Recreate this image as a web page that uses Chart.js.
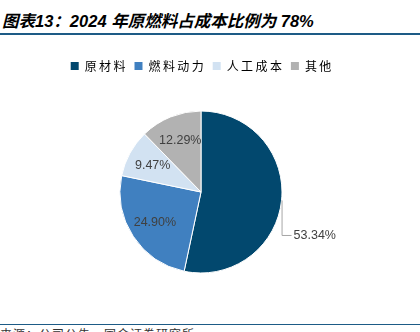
<!DOCTYPE html>
<html>
<head>
<meta charset="utf-8">
<script src="https://cdn.jsdelivr.net/npm/chart.js@4"></script>
<style>
    body { margin: 0; width: 420px; height: 332px; overflow: hidden; background: #fff; position: relative; }
    .titel { position: absolute; left: 2px; top: 8px; font: italic bold 16.5px "Liberation Sans", "Noto Sans CJK SC"; color: #000; white-space: nowrap; }
    .lijn { position: absolute; left: 0; width: 420px; height: 1.5px; background: #1d5b86; }
    .bron { position: absolute; left: 0; top: 325px; font: 12px "Noto Sans CJK SC"; color: #333; white-space: nowrap; letter-spacing: 1px; }
    .chart-box { position: absolute; left: 0; top: 35px; width: 420px; height: 287px; }
</style>
</head>
<body>
<div class="titel">图表13：2024 年原燃料占成本比例为 78%</div>
<div class="lijn" style="top:33px"></div>
<div class="chart-box"><canvas id="pie"></canvas></div>
<div class="lijn" style="top:323.5px"></div>
<div class="bron">来源：公司公告，国金证券研究所</div>
<script>
// data
var categorieen = ["原材料", "燃料动力", "人工成本", "其他"]
var aandelen = [53.34, 24.90, 9.47, 12.29]
var kleuren = ["#02486e", "#4080c0", "#d2e2f2", "#b2b2b2"]

// labels inside / outside the slices
var labelPlugin = {
    id: "sliceLabels",
    afterDatasetsDraw: function(chart) {
        var ctx = chart.ctx
        var meta = chart.getDatasetMeta(0)
        ctx.save()
        ctx.font = "12.5px 'Liberation Sans'"
        ctx.fillStyle = "#404040"
        ctx.textBaseline = "middle"
        meta.data.forEach(function(arc, i) {
            var p = arc.getProps(["x", "y", "startAngle", "endAngle", "outerRadius"], true)
            var mid = (p.startAngle + p.endAngle) / 2
            var tekst = aandelen[i].toFixed(2) + "%"
            if (i == 0) {
                var ex = p.x + Math.cos(mid) * p.outerRadius
                var ey = p.y + Math.sin(mid) * p.outerRadius
                ctx.strokeStyle = "#a6a6a6"
                ctx.lineWidth = 1
                ctx.beginPath()
                ctx.moveTo(ex + 0.5, ey)
                ctx.lineTo(ex + 0.5, ey + 35)
                ctx.lineTo(ex + 10, ey + 35)
                ctx.stroke()
                ctx.textAlign = "left"
                ctx.fillText(tekst, ex + 12, ey + 35)
            } else {
                var r = p.outerRadius * 0.68
                ctx.textAlign = "center"
                ctx.fillText(tekst, p.x + Math.cos(mid) * r, p.y + Math.sin(mid) * r)
            }
        })
        ctx.restore()
    }
}

var spaced = function(s) { return s.split("").join("\u2009") }

var myPie = new Chart(document.getElementById("pie"), {
    type: "pie",
    data: {
        labels: categorieen,
        datasets: [{
            data: aandelen,
            backgroundColor: kleuren,
            borderColor: "#ffffff",
            borderWidth: 1,
            radius: 81
        }]
    },
    options: {
        responsive: true,
        maintainAspectRatio: false,
        animation: false,
        layout: { padding: { top: 16, bottom: 20, left: 0, right: 18 } },
        plugins: {
            tooltip: { enabled: false },
            legend: {
                position: "top",
                labels: {
                    boxWidth: 8,
                    boxHeight: 8,
                    padding: 9,
                    color: "#333",
                    font: { family: "'Noto Sans CJK SC'", size: 12 },
                    generateLabels: function(chart) {
                        return categorieen.map(function(c, i) {
                            return { text: spaced(c), fillStyle: kleuren[i], strokeStyle: kleuren[i], lineWidth: 0, index: i, hidden: false }
                        })
                    }
                }
            }
        }
    },
    plugins: [labelPlugin]
})
</script>
</body>
</html>
